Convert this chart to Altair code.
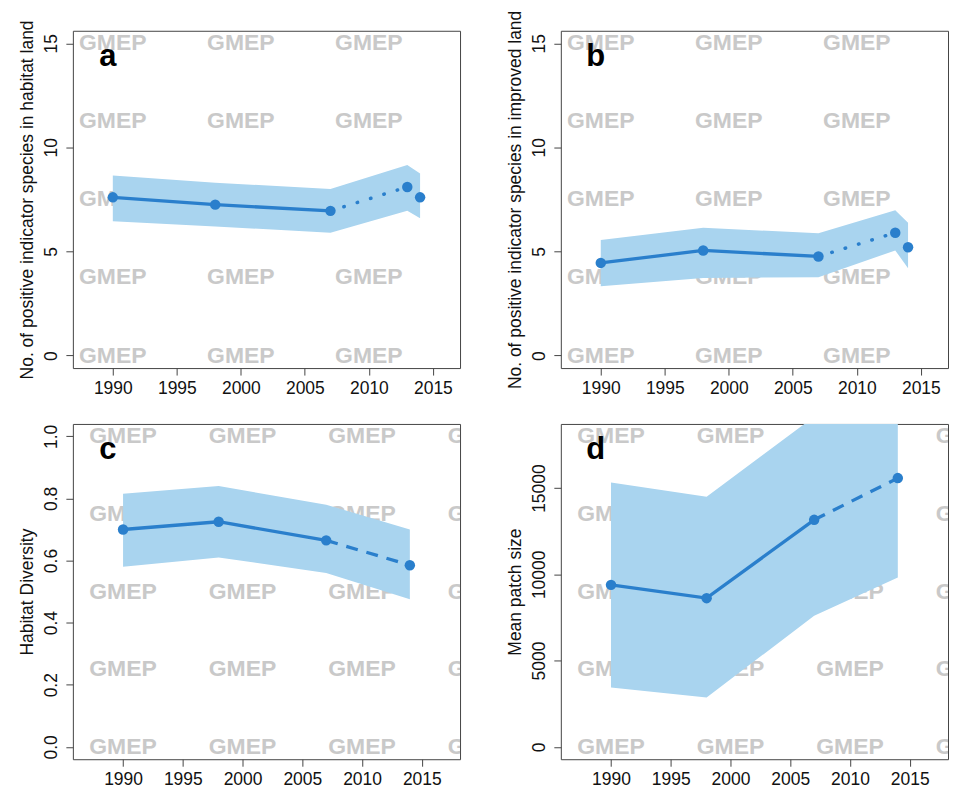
import altair as alt
import pandas as pd

# panel a: positive indicator species, habitat land
a_years = [1990, 1998, 2007, 2013, 2014]
a_mean = [7.6, 7.25, 6.95, 8.1, 7.6]
a_lo = [6.45, 6.2, 5.9, 6.95, 6.6]
a_hi = [8.65, 8.3, 8.0, 9.15, 8.75]

# panel b: positive indicator species, improved land
b_years = [1990, 1998, 2007, 2013, 2014]
b_mean = [4.45, 5.05, 4.76, 5.9, 5.2]
b_lo = [3.33, 3.73, 3.76, 5.05, 4.2]
b_hi = [5.55, 6.14, 5.87, 6.98, 6.38]

# panel c: habitat diversity
c_years = [1990, 1998, 2007, 2014]
c_mean = [0.70, 0.725, 0.665, 0.585]
c_lo = [0.58, 0.61, 0.56, 0.475]
c_hi = [0.815, 0.84, 0.78, 0.70]

# panel d: mean patch size
d_years = [1990, 1998, 2007, 2014]
d_mean = [9390, 8620, 13160, 15580]
d_lo = [3440, 2860, 7600, 9820]
d_hi = [15330, 14500, 19140, 22000]

# watermark grid
wm_years = [1990, 2000, 2010, 2020]
wm_a = [0, 3.75, 7.5, 11.25, 15]
wm_c = [0, 0.25, 0.5, 0.75, 1.0]
wm_d = [0, 4500, 9000, 13500, 18000]

x_ticks = [1990, 1995, 2000, 2005, 2010, 2015]

LINE = "#2a7fcc"
BAND = "#a9d4ef"
FONT = "Liberation Sans"


def panel(letter, years, mean, lo, hi, n_solid, dash, wm_y, xdom, ydom,
          yticks, yfmt, ytitle, height):
    df = pd.DataFrame({"year": years, "mean": mean, "lo": lo, "hi": hi})
    wm = pd.DataFrame([(x, y) for x in wm_years for y in wm_y], columns=["year", "mean"])

    xs = alt.Scale(domain=xdom, nice=False, zero=False)
    ys = alt.Scale(domain=ydom, nice=False, zero=False)
    x = alt.X("year:Q", scale=xs, title=None,
              axis=alt.Axis(values=x_ticks, format="d"))
    y = alt.Y("mean:Q", scale=ys, title=ytitle,
              axis=alt.Axis(values=yticks, format=yfmt))

    marks = alt.Chart(wm).mark_text(
        text="GMEP", font=FONT, fontSize=23, fontWeight="bold",
        color="#c9c9c9", clip=True).encode(x=x, y=y)

    band = alt.Chart(df).mark_area(color=BAND, opacity=1, clip=True).encode(
        x=x, y=alt.Y("lo:Q", scale=ys), y2="hi:Q")

    solid = alt.Chart(df.iloc[:n_solid]).mark_line(
        color=LINE, strokeWidth=3.3).encode(x=x, y=y)

    tail_df = df.iloc[n_solid - 1:n_solid + 1]
    if dash == "dot":
        tail = alt.Chart(tail_df).mark_line(
            color=LINE, strokeWidth=3.5, strokeDash=[0.5, 13.5],
            strokeCap="round").encode(x=x, y=y)
    else:
        tail = alt.Chart(tail_df).mark_line(
            color=LINE, strokeWidth=3.3, strokeDash=[12, 9]).encode(x=x, y=y)

    pts = alt.Chart(df).mark_circle(color=LINE, size=110, opacity=1).encode(x=x, y=y)

    lab = alt.Chart(df.iloc[:1]).mark_text(
        text=letter, font=FONT, fontSize=31, fontWeight="bold", color="black",
        align="center", baseline="alphabetic").encode(x=alt.value(35), y=alt.value(35))

    return alt.layer(marks, band, solid, tail, pts, lab).properties(
        width=388, height=height)


pa = panel("a", a_years, a_mean, a_lo, a_hi, 3, "dot", wm_a,
           [1986.88, 2017.12], [-0.6, 15.6], [0, 5, 10, 15], "d",
           "No. of positive indicator species in habitat land", 338)
pb = panel("b", b_years, b_mean, b_lo, b_hi, 3, "dot", wm_a,
           [1986.88, 2017.12], [-0.6, 15.6], [0, 5, 10, 15], "d",
           "No. of positive indicator species in improved land", 338)
pc = panel("c", c_years, c_mean, c_lo, c_hi, 3, "dash", wm_c,
           [1985.8, 2018.2], [-0.04, 1.04], [0, 0.2, 0.4, 0.6, 0.8, 1.0], ".1f",
           "Habitat Diversity", 336)
pd_ = panel("d", d_years, d_mean, d_lo, d_hi, 3, "dash", wm_d,
            [1985.8, 2018.2], [-720, 18720], [0, 5000, 10000, 15000], "d",
            "Mean patch size", 336)

top = alt.hconcat(pa, pb, spacing=45)
bottom = alt.hconcat(pc, pd_, spacing=45)

chart = alt.vconcat(top, bottom, spacing=26).properties(
    padding={"left": 10, "top": 0, "right": 0, "bottom": 0}
).configure_view(
    stroke="#444", strokeWidth=1
).configure_axis(
    domain=False, grid=False, tickSize=7, tickColor="#444", tickWidth=1,
    labelFont=FONT, labelFontSize=17.5, labelColor="#111",
    titleFont=FONT, titleFontSize=17.5, titleFontWeight="normal", titleColor="#111",
    labelOverlap=False
).configure_axisX(
    labelPadding=4, labelFlush=False
).configure_axisY(
    labelAngle=270, labelAlign="center", labelBaseline="alphabetic",
    labelPadding=9, titlePadding=6
)

chart.save("out.html", embed_options={"renderer": "svg", "actions": False})
